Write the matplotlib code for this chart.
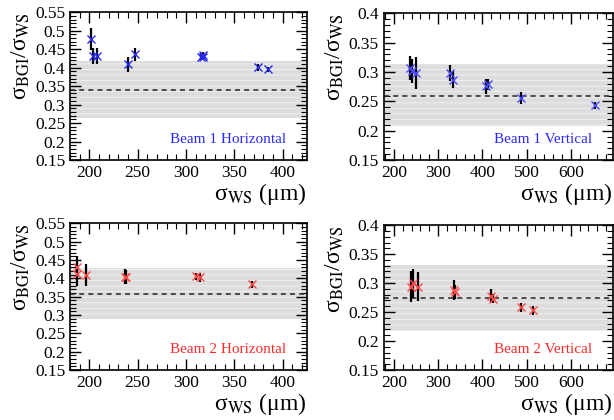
import numpy as np
from matplotlib import pyplot as plt
from matplotlib.ticker import MultipleLocator

plt.rcParams['font.family'] = ['Liberation Serif', 'DejaVu Serif']
plt.rcParams['mathtext.fontset'] = 'stix'
plt.rcParams['hatch.color'] = 'white'
plt.rcParams['hatch.linewidth'] = 0.6

# Beam 1 Horizontal
b1h_x = [202, 203.5, 208, 240, 247.5, 315, 317, 318, 374, 385]
b1h_y = [0.477, 0.432, 0.432, 0.409, 0.436, 0.430, 0.433, 0.429, 0.401, 0.395]
b1h_e = [0.029, 0.022, 0.022, 0.020, 0.017, 0.010, 0.009, 0.008, 0.009, 0.008]
b1h_band = (0.263, 0.417, 0.339)

# Beam 1 Vertical
b1v_x = [235.5, 240, 249, 327, 333, 409, 412, 488, 655]
b1v_y = [0.307, 0.302, 0.298, 0.298, 0.287, 0.276, 0.279, 0.256, 0.243]
b1v_e = [0.020, 0.020, 0.027, 0.014, 0.014, 0.013, 0.010, 0.010, 0.006]
b1v_band = (0.208, 0.313, 0.26)

# Beam 2 Horizontal
b2h_x = [187.3, 187.5, 196.6, 237, 238, 310.6, 314.7, 368]
b2h_y = [0.432, 0.411, 0.409, 0.405, 0.404, 0.406, 0.403, 0.384]
b2h_e = [0.029, 0.031, 0.029, 0.021, 0.018, 0.010, 0.012, 0.010]
b2h_band = (0.289, 0.429, 0.358)

# Beam 2 Vertical
b2v_x = [238.6, 242.4, 255, 336, 339, 419, 423, 488, 514]
b2v_y = [0.294, 0.300, 0.294, 0.288, 0.284, 0.278, 0.273, 0.258, 0.253]
b2v_e = [0.027, 0.025, 0.025, 0.017, 0.012, 0.011, 0.008, 0.008, 0.008]
b2v_band = (0.218, 0.332, 0.275)

panels = [
    (b1h_x, b1h_y, b1h_e, b1h_band, 'Beam 1 Horizontal', '#2a2aee', '#2a2aff',
     [0.114, 0.619, 0.386, 0.352], (180, 425), (0.15, 0.55), 50, 10),
    (b1v_x, b1v_y, b1v_e, b1v_band, 'Beam 1 Vertical', '#4a4aff', '#2a2aff',
     [0.625, 0.619, 0.373, 0.349], (177, 695), (0.15, 0.40), 100, 20),
    (b2h_x, b2h_y, b2h_e, b2h_band, 'Beam 2 Horizontal', '#ff4a4a', '#ff2a2a',
     [0.114, 0.119, 0.386, 0.349], (180, 425), (0.15, 0.55), 50, 10),
    (b2v_x, b2v_y, b2v_e, b2v_band, 'Beam 2 Vertical', '#ff4a4a', '#ff2a2a',
     [0.625, 0.119, 0.373, 0.345], (177, 695), (0.15, 0.40), 100, 20),
]

fig = plt.figure(figsize=(6.14, 4.2), dpi=100)
for x, y, e, band, label, mcol, tcol, pos, xl, yl, xmaj, xmin in panels:
    ax = fig.add_axes(pos)
    ax.fill_between([xl[0], xl[1]], band[0], band[1], facecolor='#dddddd',
                    hatch='---', edgecolor='#f2f2f2', linewidth=0, zorder=1)
    ax.axhline(band[2], color='#333333', linestyle=(0, (3, 2.5)), linewidth=1.2, zorder=2)
    ax.errorbar(x, y, yerr=e, fmt='none', ecolor='black', elinewidth=1.6, capsize=0, zorder=3)
    ax.plot(x, y, 'x', color=mcol, markersize=6, mew=1.0, zorder=4)
    ax.text(0.91, 0.14, label, color=tcol, fontsize=11, ha='right', va='center',
            transform=ax.transAxes)
    ax.set_xlim(xl)
    ax.set_ylim(yl)
    ax.xaxis.set_major_locator(MultipleLocator(xmaj))
    ax.xaxis.set_minor_locator(MultipleLocator(xmin))
    ax.yaxis.set_major_locator(MultipleLocator(0.05))
    ax.yaxis.set_minor_locator(MultipleLocator(0.01))
    ax.tick_params(which='both', direction='in', top=True, right=True, labelsize=12.5)
    ax.tick_params(which='major', length=8, width=1)
    ax.tick_params(which='minor', length=4, width=0.8)
    ax.set_yticks(ax.get_yticks())
    ax.set_yticklabels(['%g' % v for v in ax.get_yticks()])
    ax.set_ylim(yl)
    ax.set_xlabel(r'σ$_{\rm WS}$ (μm)', fontsize=17, loc='right', labelpad=0)
    ax.set_ylabel(r'σ$_{\rm BGI}$/σ$_{\rm WS}$', fontsize=17, loc='top', labelpad=2)
    for s in ax.spines.values():
        s.set_linewidth(1.2)

plt.savefig('out.png', dpi=100)
